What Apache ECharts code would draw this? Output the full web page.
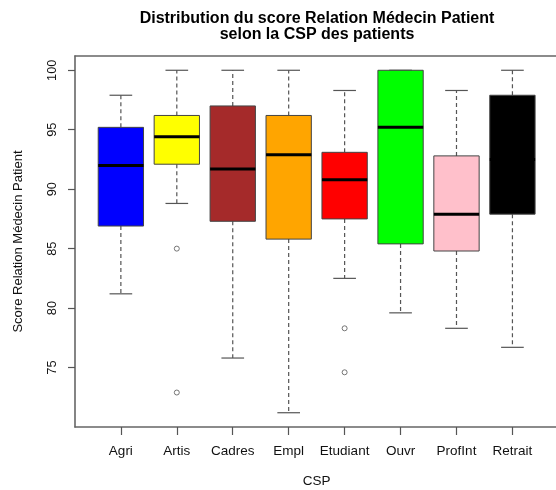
<!DOCTYPE html>
<html><head><meta charset="utf-8">
<script src="https://cdn.jsdelivr.net/npm/echarts@6/dist/echarts.min.js"></script>
<style>html,body{margin:0;padding:0;background:#fff}#c{width:556px;height:490px}</style>
</head><body><div id="c"></div>
<script>
const categories = ['Agri','Artis','Cadres','Empl','Etudiant','Ouvr','ProfInt','Retrait'];
const boxColors = ['#0000FF','#FFFF00','#A52A2A','#FFA500','#FF0000','#00FF00','#FFC0CB','#000000'];
const whiskerLow  = [81.2, 88.8, 75.8, 71.2, 82.5, 79.6, 78.3, 76.7];
const q1          = [86.9, 92.1, 87.3, 85.8, 87.5, 85.4, 84.8, 87.9];
const median      = [92.0, 94.4, 91.7, 92.9, 90.8, 95.2, 87.9, 92.5];
const q3          = [95.2, 96.2, 97.0, 96.2, 93.1, 100.0, 92.8, 97.9];
const whiskerHigh = [97.9, 100.0, 100.0, 100.0, 98.3, 100.0, 98.3, 100.0];
const outlierCat  = [2, 2, 5, 5];
const outlierVal  = [85.0, 72.9, 78.3, 74.6];
const yTicks = [75, 80, 85, 90, 95, 100];
const xTicks = [1, 2, 3, 4, 5, 6, 7, 8];

const FONT = '"Liberation Sans", Arial, Helvetica, sans-serif';
const FRAME = {color: '#666', width: 1.6};
const boxData = categories.map((c, i) => [i + 1, whiskerLow[i], q1[i], median[i], q3[i], whiskerHigh[i], i]);
const outlierData = outlierCat.map((c, i) => [c, outlierVal[i]]);

const chart = echarts.init(document.getElementById('c'), null, {renderer: 'canvas'});
chart.setOption({
  backgroundColor: '#fff',
  animation: false,
  title: {
    text: 'Distribution du score Relation Médecin Patient\nselon la CSP des patients',
    left: 317, top: 11, textAlign: 'center', padding: 0,
    textStyle: {fontFamily: FONT, fontSize: 16, fontWeight: 'bold', color: '#000', lineHeight: 15.5}
  },
  grid: {left: 75, top: 56, bottom: 63, right: -2.3, show: false, outerBoundsMode: 'none', containLabel: false},
  xAxis: [{
    type: 'value', min: 0.18, max: 8.82,
    name: 'CSP', nameLocation: 'middle', nameGap: 47,
    nameTextStyle: {fontFamily: FONT, fontSize: 13.5, color: '#111'},
    axisLine: {show: true, onZero: false, lineStyle: FRAME},
    splitLine: {show: false},
    axisTick: {show: true, length: 8, customValues: xTicks, lineStyle: {color: '#555', width: 1.2}},
    axisLabel: {
      customValues: xTicks, margin: 17,
      formatter: v => categories[Math.round(v) - 1] || '',
      fontFamily: FONT, fontSize: 13.5, color: '#111'
    }
  }, {
    type: 'value', min: 0.18, max: 8.82, position: 'top',
    axisLine: {show: true, onZero: false, lineStyle: FRAME},
    axisTick: {show: false}, axisLabel: {show: false}, splitLine: {show: false}
  }],
  yAxis: {
    type: 'value', min: 70, max: 101.2,
    name: 'Score Relation Médecin Patient', nameLocation: 'middle', nameGap: 50, nameRotate: 90,
    nameTextStyle: {fontFamily: FONT, fontSize: 13, color: '#111'},
    axisLine: {show: true, onZero: false, lineStyle: FRAME},
    splitLine: {show: false},
    axisTick: {show: true, length: 7, customValues: yTicks, lineStyle: {color: '#555', width: 1.2}},
    axisLabel: {customValues: yTicks, rotate: 90, margin: 16, fontFamily: FONT, fontSize: 12.8, color: '#111'}
  },
  series: [{
    type: 'custom',
    data: boxData,
    encode: {x: 0, y: [1, 2, 3, 4, 5]},
    clip: false,
    renderItem: function (params, api) {
      const x = api.value(0);
      const idx = api.value(6);
      const bw = api.size([1, 0])[0] * 0.81;
      const cap = bw / 2;
      const pLow = api.coord([x, api.value(1)]);
      const pQ1 = api.coord([x, api.value(2)]);
      const pMed = api.coord([x, api.value(3)]);
      const pQ3 = api.coord([x, api.value(4)]);
      const pHigh = api.coord([x, api.value(5)]);
      const cx = pQ1[0];
      const wStyle = {stroke: '#555', lineWidth: 1.2, lineDash: [4, 3]};
      const cStyle = {stroke: '#555', lineWidth: 1.2};
      return {
        type: 'group',
        children: [
          {type: 'line', shape: {x1: cx, y1: pQ1[1], x2: cx, y2: pLow[1]}, style: wStyle},
          {type: 'line', shape: {x1: cx, y1: pQ3[1], x2: cx, y2: pHigh[1]}, style: wStyle},
          {type: 'line', shape: {x1: cx - cap / 2, y1: pLow[1], x2: cx + cap / 2, y2: pLow[1]}, style: cStyle},
          {type: 'line', shape: {x1: cx - cap / 2, y1: pHigh[1], x2: cx + cap / 2, y2: pHigh[1]}, style: cStyle},
          {type: 'rect', shape: {x: cx - bw / 2, y: pQ3[1], width: bw, height: pQ1[1] - pQ3[1]},
           style: {fill: boxColors[idx], stroke: '#444', lineWidth: 1}},
          {type: 'line', shape: {x1: cx - bw / 2, y1: pMed[1], x2: cx + bw / 2, y2: pMed[1]},
           style: {stroke: '#000', lineWidth: 3}}
        ]
      };
    }
  }, {
    type: 'scatter',
    data: outlierData,
    symbol: 'circle', symbolSize: 5,
    itemStyle: {color: 'transparent', borderColor: '#555', borderWidth: 1}
  }]
});
</script></body></html>
